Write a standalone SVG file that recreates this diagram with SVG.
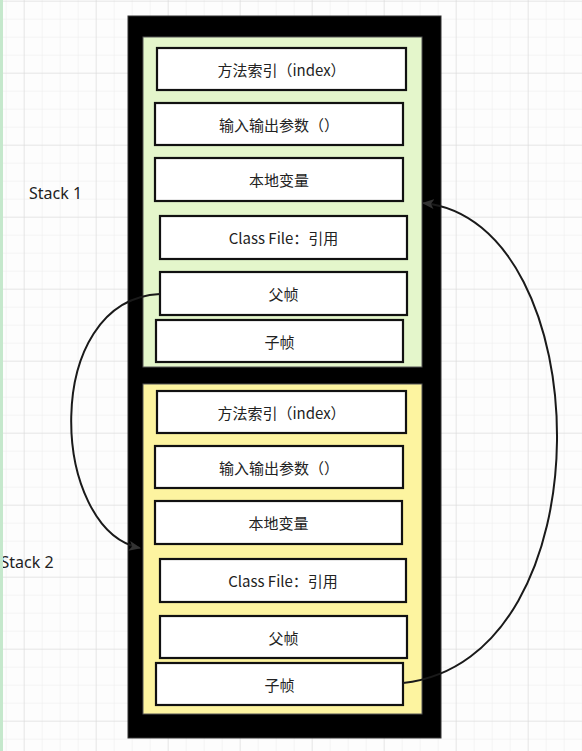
<svg xmlns="http://www.w3.org/2000/svg" width="582" height="751" viewBox="0 0 582 751">
<style>
.box{fill:#ffffff;stroke:#111;stroke-width:2.2}
.t{font-family:"Noto Sans CJK SC","Noto Sans",sans-serif;font-size:15px;fill:#222;text-anchor:middle;dominant-baseline:central}
.lbl{font-family:"Noto Sans","Noto Sans CJK SC",sans-serif;font-size:16px;fill:#222}
.edge{fill:none;stroke:#1a1a1a;stroke-width:2}
</style>
<defs>
<pattern id="minor" width="18" height="18" patternUnits="userSpaceOnUse" x="5.7" y="0.7">
<path d="M0,0H18M0,0V18" fill="none" stroke="#ebebeb" stroke-width="1"/>
</pattern>
<pattern id="major" width="72" height="72" patternUnits="userSpaceOnUse" x="23.7" y="0.7">
<path d="M0,0H72M0,0V72" fill="none" stroke="#d9d9d9" stroke-width="1"/>
</pattern>
<marker id="arr" markerWidth="12" markerHeight="10" refX="11" refY="5" orient="auto" markerUnits="userSpaceOnUse">
<path d="M0,0L12,5L0,10L3,5Z" fill="#333"/>
</marker>
</defs>
<rect width="582" height="751" fill="#fdfdfd"/>
<rect width="582" height="751" fill="url(#minor)"/>
<rect width="582" height="751" fill="url(#major)"/>
<text class="lbl" x="29" y="199">Stack 1</text>
<text class="lbl" x="0.5" y="568">Stack 2</text>
<rect x="0" y="0" width="3" height="751" fill="#c5e8cc"/>
<g id="frame">
<rect x="128" y="16" width="313" height="722" fill="#000" stroke="#333" stroke-width="1"/>
</g>
<g id="stack1">
<rect x="143" y="37" width="279" height="330" fill="#e4f6cb" stroke="#555" stroke-width="1"/>
</g>
<g id="stack2">
<rect x="143" y="384" width="279" height="330" fill="#fdf4a0" stroke="#555" stroke-width="1"/>
</g>
<g id="s1-index"><rect class="box" x="157" y="48" width="249" height="42"/><text class="t" x="281.5" y="69">方法索引（index）</text></g>
<g id="s1-params"><rect class="box" x="155" y="103" width="248" height="42"/><text class="t" x="279" y="124">输入输出参数（）</text></g>
<g id="s1-locals"><rect class="box" x="155" y="158" width="248" height="43"/><text class="t" x="279" y="179.5">本地变量</text></g>
<g id="s1-classfile"><rect class="box" x="160" y="216" width="247" height="43"/><text class="t" x="283.5" y="237.5">Class File：引用</text></g>
<g id="s1-parent"><rect class="box" x="160" y="272" width="247" height="43"/><text class="t" x="283.5" y="293.5">父帧</text></g>
<g id="s1-child"><rect class="box" x="156" y="320" width="247" height="42"/><text class="t" x="279.5" y="341">子帧</text></g>
<g id="s2-index"><rect class="box" x="157" y="391" width="249" height="42"/><text class="t" x="281.5" y="412">方法索引（index）</text></g>
<g id="s2-params"><rect class="box" x="155" y="446" width="248" height="42"/><text class="t" x="279" y="467">输入输出参数（）</text></g>
<g id="s2-locals"><rect class="box" x="155" y="501" width="247" height="43"/><text class="t" x="278.5" y="522.5">本地变量</text></g>
<g id="s2-classfile"><rect class="box" x="160" y="559" width="246" height="43"/><text class="t" x="283" y="580.5">Class File：引用</text></g>
<g id="s2-parent"><rect class="box" x="160" y="616" width="247" height="42"/><text class="t" x="283.5" y="637">父帧</text></g>
<g id="s2-child"><rect class="box" x="156" y="663" width="247" height="42"/><text class="t" x="279.5" y="684">子帧</text></g>
<g id="connectors">
<path class="edge" d="M160,294 C40,300 50,530 140,548" marker-end="url(#arr)"/>
<path class="edge" d="M403,683 C610,660 600,220 423,203" marker-end="url(#arr)"/>
</g>
</svg>
